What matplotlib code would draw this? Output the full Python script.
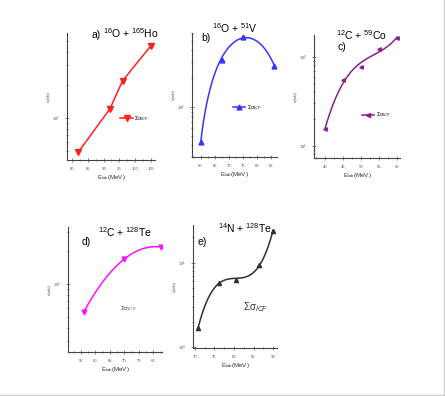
import numpy as np
import matplotlib
matplotlib.use('Agg')
import matplotlib.pyplot as plt
from matplotlib.ticker import LogLocator, NullFormatter, MultipleLocator

plt.rcParams['font.family'] = ['Liberation Sans', 'DejaVu Sans']
plt.rcParams['mathtext.fontset'] = 'custom'
plt.rcParams['mathtext.rm'] = 'Liberation Sans'
plt.rcParams['mathtext.it'] = 'Liberation Sans:italic'

# a) 16O + 165Ho
E_a = [82, 92, 96, 105]
s_a = [4.9, 12.1, 21.7, 45.2]
# b) 16O + 51V
E_b = [60, 67.5, 75, 86]
s_b = [4.3, 31.5, 55, 27.3]
# c) 12C + 59Co
E_c = [40, 45, 50, 55, 60]
s_c = [15.5, 55, 77, 123, 163]
# d) 12C + 128Te
E_d = [56, 70, 82.5]
s_d = [5.6, 16.9, 21.7]
# e) 14N + 128Te
E_e = [70.8, 76.1, 80.5, 86.5, 90]
s_e = [1.68, 5.8, 6.3, 9.5, 24]

W, H = 445, 396
fig = plt.figure(figsize=(W / 100, H / 100), dpi=100)


def box(x0, y0, x1, y1):
    return [x0 / W, 1 - y1 / H, (x1 - x0) / W, (y1 - y0) / H]


def setup(ax, xlim, ylim, xmaj):
    ax.set_yscale('log')
    ax.set_xlim(*xlim)
    ax.set_ylim(*ylim)
    for s in ['top', 'right']:
        ax.spines[s].set_visible(False)
    for s in ['left', 'bottom']:
        ax.spines[s].set_linewidth(0.8)
        ax.spines[s].set_color('#444444')
    ax.xaxis.set_major_locator(MultipleLocator(xmaj))
    ax.xaxis.set_minor_locator(MultipleLocator(xmaj / 2))
    ax.yaxis.set_major_locator(LogLocator(base=10))
    ax.yaxis.set_minor_locator(LogLocator(base=10, subs=np.arange(2, 10)))
    ax.yaxis.set_minor_formatter(NullFormatter())
    ax.tick_params(which='both', direction='inout', labelsize=3, colors='#555555', width=0.5)
    ax.tick_params(which='major', length=2.5)
    ax.tick_params(which='minor', length=1.5)
    ax.set_xlabel('E$_{lab}$(MeV)', fontsize=4.5, labelpad=2, color='#333333')
    ax.set_ylabel('σ(mb)', fontsize=3, labelpad=1, color='#555555')


def smooth(x, y, deg, pw=None):
    # polynomial fit on log(y), or on y**pw when pw is given
    x = np.array(x, float)
    y = np.array(y, float)
    xs = np.linspace(x.min(), x.max(), 200)
    if pw is None:
        p = np.polyfit(x, np.log10(y), deg)
        return xs, 10 ** np.polyval(p, xs)
    p = np.polyfit(x, y ** pw, deg)
    return xs, np.clip(np.polyval(p, xs), 1e-6, None) ** (1 / pw)


# a
ax = fig.add_axes(box(67, 33, 155, 160))
setup(ax, (78.4, 106.3), (4.15, 59), 5)
ax.plot(E_a, s_a, color='#ff2020', lw=1.1, marker='v', ms=4, label='Σσ$_{ICF}$')
ax.text(0.28, 0.985, 'a)', transform=ax.transAxes, fontsize=7.5, va='center')
ax.text(0.41, 1.0, r'$^{16}$O + $^{165}$Ho', transform=ax.transAxes, fontsize=7.5, va='center')
ax.legend(loc='center left', bbox_to_anchor=(0.55, 0.33), fontsize=4, frameon=False,
          handlelength=2.2, handletextpad=0.3)

# b
ax = fig.add_axes(box(192, 33, 277, 157))
setup(ax, (57, 87), (3.0, 60), 5)
xs, ys = smooth(E_b, s_b, 2, pw=0.45)
ax.plot(xs, ys, color='#3535ff', lw=1.1)
ax.plot(E_b, s_b, ls='none', color='#3535ff', marker='^', ms=3.5)
ax.plot([], [], color='#3535ff', lw=1.1, marker='^', ms=3.5, label='Σσ$_{ICF}$')
ax.text(0.11, 0.96, 'b)', transform=ax.transAxes, fontsize=7.5, va='center')
ax.text(0.23, 1.04, r'$^{16}$O + $^{51}$V', transform=ax.transAxes, fontsize=7.5, va='center')
ax.legend(loc='center left', bbox_to_anchor=(0.42, 0.4), fontsize=4, frameon=False,
          handlelength=2.2, handletextpad=0.3)

# c
ax = fig.add_axes(box(314, 35, 400, 158))
setup(ax, (36.9, 60.8), (7.3, 176), 5)
xs, ys = smooth(E_c, s_c, 3)
ax.plot(xs, ys, color='#8a1f8a', lw=1.1)
ax.plot(E_c, s_c, ls='none', color='#8a1f8a', marker='<', ms=2.5)
ax.plot([], [], color='#8a1f8a', lw=1.1, marker='<', ms=3, label='Σσ$_{ICF}$')
ax.text(0.27, 0.9, 'c)', transform=ax.transAxes, fontsize=7.5, va='center')
ax.text(0.25, 1.0, r'$^{12}$C + $^{59}$Co', transform=ax.transAxes, fontsize=7.5, va='center')
ax.legend(loc='center left', bbox_to_anchor=(0.5, 0.35), fontsize=4, frameon=False,
          handlelength=2.2, handletextpad=0.3)

# d
ax = fig.add_axes(box(68, 227, 162, 352))
setup(ax, (50.5, 83), (2.4, 33), 5)
xs, ys = smooth(E_d, s_d, 2)
ax.plot(xs, ys, color='#ff10ff', lw=1.1)
ax.plot(E_d, s_d, ls='none', color='#ff10ff', marker='v', ms=3.5)
ax.text(0.15, 0.88, 'd)', transform=ax.transAxes, fontsize=7.5, va='center')
ax.text(0.32, 0.96, r'$^{12}$C + $^{128}$Te', transform=ax.transAxes, fontsize=7.5, va='center')
ax.text(0.55, 0.35, 'Σσ$_{ICF}$', transform=ax.transAxes, fontsize=4.5, color='#444444',
        va='center')

# e
ax = fig.add_axes(box(193, 225, 277, 348))
setup(ax, (69.5, 91), (0.97, 28), 5)
xs, ys = smooth(E_e, s_e, 3)
ax.plot(xs, ys, color='#303030', lw=1.1)
ax.plot(E_e, s_e, ls='none', color='#303030', marker='^', ms=3)
ax.text(0.05, 0.86, 'e)', transform=ax.transAxes, fontsize=7.5, va='center')
ax.text(0.3, 0.975, r'$^{14}$N + $^{128}$Te', transform=ax.transAxes, fontsize=7.5, va='center')
ax.text(0.6, 0.33, 'Σσ$_{ICF}$', transform=ax.transAxes, fontsize=7, color='#333333',
        va='center')

# thin border at right and bottom edge
fig.add_artist(plt.Line2D([0, 1], [0.002, 0.002], color='#cccccc', lw=1, transform=fig.transFigure))
fig.add_artist(plt.Line2D([0.998, 0.998], [0, 1], color='#cccccc', lw=1, transform=fig.transFigure))

fig.savefig('out.png', dpi=100)
